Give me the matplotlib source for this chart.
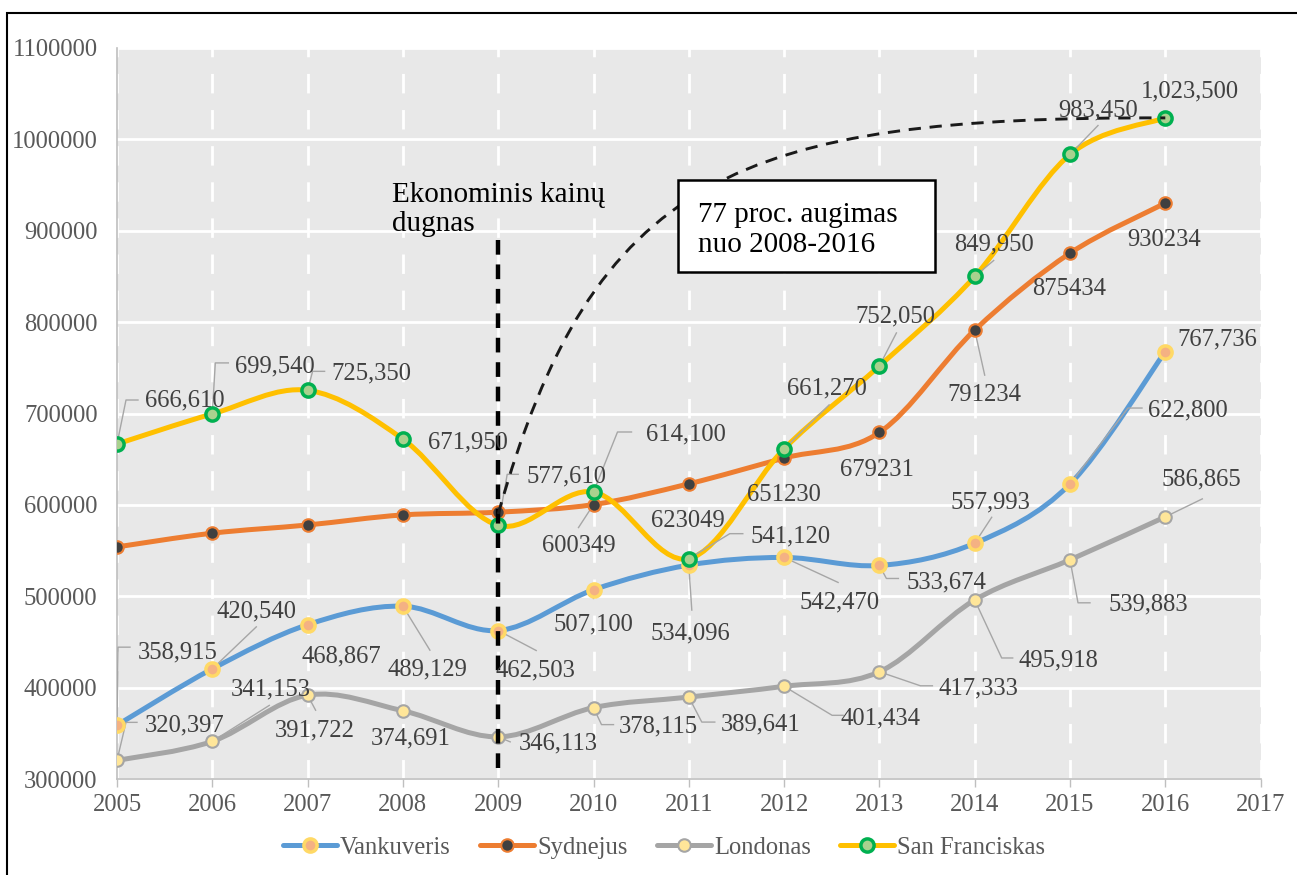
import numpy as np
import matplotlib
matplotlib.use('Agg')
import matplotlib.pyplot as plt
from matplotlib.path import Path
from matplotlib.patches import PathPatch, Rectangle
from matplotlib.lines import Line2D

plt.rcParams['font.family'] = ['Liberation Serif', 'DejaVu Serif']

# duomenys
years = list(range(2005, 2017))
vankuveris = [358915, 420540, 468867, 489129, 462503, 507100, 534096, 542470, 533674, 557993, 622800, 767736]
sydnejus = [554000, 569000, 578000, 589000, 592000, 600349, 623049, 651230, 679231, 791234, 875434, 930234]
londonas = [320397, 341153, 391722, 374691, 346113, 378115, 389641, 401434, 417333, 495918, 539883, 586865]
san_franciskas = [666610, 699540, 725350, 671950, 577610, 614100, 541120, 661270, 752050, 849950, 983450, 1023500]
y_ticks = list(range(300000, 1100001, 100000))
x_ticks = list(range(2005, 2018))

# etikeciu poslinkiai pikseliais (dx, dy zemyn) ir rodykliu linijos
van_lbl = [(61, -75), (44, -59), (34, 30), (25, 61), (37, 38), (0, 33), (2, 66), (55, 43), (67, 15), (16, -43), (118, -76), (52, -14)]
van_lead = [[(0, 0), (1, -78), (13, -78)], [(0, 0), (44, -42)], None, [(0, 0), (27, 44)], [(0, 0), (38, 20)],
            [(0, 0), (0, 8)], [(0, 0), (3, 45)], [(0, 0), (54, 25)], [(0, 0), (7, 13), (19, 13)],
            [(0, 0), (17, -26)], [(0, 0), (58, -76), (72, -76)], None]
syd_lbl = [None] * 5 + [(-15, 39), (-1, 35), (0, 35), (-2, 36), (10, 63), (-1, 34), (-1, 35)]
syd_lead = [None] * 5 + [[(0, 0), (-15, 23)], None, None, None, [(0, 0), (10, 45)], None, None]
lon_lbl = [(68, -37), (58, -54), (7, 33), (8, 26), (60, 5), (65, 17), (72, 25), (96, 30), (99, 15), (84, 58), (78, 43), (36, -39)]
lon_lead = [[(0, 0), (9, -38), (20, -38)], [(0, 0), (57, -36)], [(0, 0), (8, 15)], None, [(0, 0), (12, 5)],
            [(0, 0), (8, 17), (20, 17)], [(0, 0), (13, 25), (26, 25)], [(0, 0), (48, 29), (59, 29)],
            [(0, 0), (41, 14), (53, 14)], [(0, 0), (27, 58), (38, 58)], [(0, 0), (8, 43), (20, 43)], [(0, 0), (37, -18)]]
sf_lbl = [(68, -46), (63, -49), (64, -19), (65, 1), (68, -51), (92, -60), (102, -24), (43, -62), (16, -51), (19, -34), (28, -46), (25, -28)]
sf_lead = [[(0, 0), (9, -44), (21, -44)], [(0, 0), (3, -51), (16, -51)], [(0, 0), (5, -19), (17, -19)], None,
           [(0, 0), (9, -51), (20, -51)], [(0, 0), (24, -60), (38, -60)], [(0, 0), (41, -25), (54, -25)],
           [(0, 0), (45, -44)], [(0, 0), (17, -33)], [(0, 0), (19, -16)], [(0, 0), (28, -29)], None]

series = [
    ('Vankuveris', vankuveris, '#5B9BD5', '#F4B183', '#FFD966', 9.5, 2.5, van_lbl, van_lead, True),
    ('Sydnejus', sydnejus, '#ED7D31', '#404040', '#ED7D31', 9, 1.5, syd_lbl, syd_lead, False),
    ('Londonas', londonas, '#A5A5A5', '#FFE699', '#A5A5A5', 9, 1.5, lon_lbl, lon_lead, True),
    ('San Franciskas', san_franciskas, '#FFC000', '#A9D18E', '#00B050', 9.5, 2.5, sf_lbl, sf_lead, True),
]


def smooth_path(x, y):
    # Excel tipo glotninimas (Bezier)
    x = np.asarray(x, float)
    y = np.asarray(y, float)
    px = np.concatenate([[x[0]], x, [x[-1]]])
    py = np.concatenate([[y[0]], y, [y[-1]]])
    verts = [(x[0], y[0])]
    codes = [Path.MOVETO]
    for i in range(1, len(x)):
        c1 = (px[i] + (px[i + 1] - px[i - 1]) / 6, py[i] + (py[i + 1] - py[i - 1]) / 6)
        c2 = (px[i + 1] - (px[i + 2] - px[i]) / 6, py[i + 1] - (py[i + 2] - py[i]) / 6)
        verts += [c1, c2, (px[i + 1], py[i + 1])]
        codes += [Path.CURVE4] * 3
    return Path(verts, codes)


fig = plt.figure(figsize=(12.97, 8.75), dpi=100)
ax = fig.add_axes([117 / 1297, 96 / 875, 1143.6 / 1297, 731 / 875])
ax.set_xlim(2005, 2017)
ax.set_ylim(300000, 1100000)
ax.set_facecolor('#E8E8E8')
ax.set_axisbelow(True)
ax.yaxis.grid(True, color='white', lw=2)
ax.xaxis.grid(True, color='white', lw=2, linestyle=(0, (7, 6)))
ax.set_xticks(x_ticks)
ax.set_yticks(y_ticks)
ax.set_yticklabels([str(v) for v in y_ticks])
ax.tick_params(axis='x', colors='#595959', labelsize=17.7, length=6, width=1, color='#BFBFBF', pad=5)
ax.tick_params(axis='y', colors='#595959', labelsize=17.7, length=0, pad=14)
for s in ['top', 'right']:
    ax.spines[s].set_visible(False)
for s in ['left', 'bottom']:
    ax.spines[s].set_color('#BFBFBF')
    ax.spines[s].set_linewidth(1.2)


def off(x, v, dx, dy):
    d = ax.transData.transform((x, v)) + np.array([dx, -dy])
    return ax.transData.inverted().transform(d)


handles = []
for name, vals, col, mfc, mec, ms, mew, lbls, leads, commas in series:
    ax.add_patch(PathPatch(smooth_path(years, vals), fill=False, edgecolor=col, lw=3.6,
                           capstyle='round', joinstyle='round', zorder=3))
    for x, v, ld in zip(years, vals, leads):
        if ld:
            pts = np.array([off(x, v, dx, dy) for dx, dy in ld])
            ax.plot(pts[:, 0], pts[:, 1], color='#A6A6A6', lw=1, zorder=3.5)
    ax.plot(years, vals, linestyle='none', marker='o', ms=ms, mfc=mfc, mec=mec, mew=mew, zorder=4)
    for x, v, lb in zip(years, vals, lbls):
        if lb is None:
            continue
        txt = f'{v:,}' if commas else str(v)
        ax.annotate(txt, (x, v), xytext=(lb[0], -lb[1] - 2), textcoords='offset pixels',
                    ha='center', va='center', fontsize=17.7, color='#404040', zorder=6)
    handles.append(Line2D([], [], color=col, lw=3.6, marker='o', ms=ms, mfc=mfc, mec=mec, mew=mew,
                          solid_capstyle='round', label=name))

# ekonominis dugnas
ax.plot([2009, 2009], [890000, 310000], color='black', lw=3.2, dashes=(3.3, 2.2), zorder=5)
ax.text(2007.886, 923000, 'Ekonominis kainų\ndugnas', fontsize=21, color='black',
        ha='left', va='center', linespacing=1.15, zorder=6)

# augimo kreive
curve = Path([(2009, 590000), (2010, 960000), (2011.5, 1025000), (2016, 1023500)],
             [Path.MOVETO, Path.CURVE4, Path.CURVE4, Path.CURVE4])
ax.add_patch(PathPatch(curve, fill=False, edgecolor='#1A1A1A', lw=2.1, linestyle=(0, (4.2, 3.0)), zorder=5))
ax.add_patch(Rectangle((2010.887, 854700), 2.696, 100600, facecolor='white', edgecolor='black', lw=1.8, zorder=5.5))
ax.text(2011.097, 901000, '77 proc. augimas\nnuo 2008-2016', fontsize=21, color='black',
        ha='left', va='center', linespacing=1.18, zorder=6)

fig.legend(handles=handles, loc='center', bbox_to_anchor=(0.512, 0.031), ncol=4, frameon=False,
           fontsize=17.7, labelcolor='#595959', handlelength=2.2, handletextpad=0.12, columnspacing=1.2)

fig.patches.append(Rectangle((7 / 1297, -0.05), 1.2, 862 / 875 + 0.05, transform=fig.transFigure,
                             fill=False, edgecolor='black', lw=1.5))

fig.savefig('out.png', dpi=100)
